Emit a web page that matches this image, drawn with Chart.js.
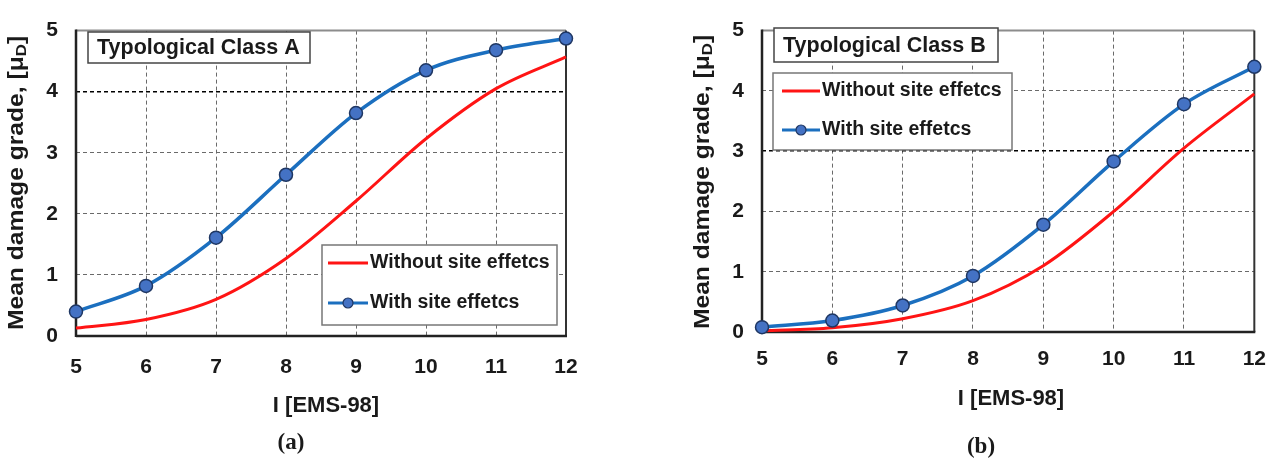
<!DOCTYPE html>
<html>
<head>
<meta charset="utf-8">
<script src="https://cdn.jsdelivr.net/npm/chart.js@4.4.0/dist/chart.umd.min.js"></script>
<style>
body{margin:0;background:#fff;width:1281px;height:461px;overflow:hidden;position:relative}
canvas{position:absolute;top:0}
#cA{left:0}
#cB{left:640px}
</style>
</head>
<body>
<canvas id="cA" width="640" height="461"></canvas>
<canvas id="cB" width="641" height="461"></canvas>
<script>
// values
const intensity = [5, 6, 7, 8, 9, 10, 11, 12];
const yTicks = [0, 1, 2, 3, 4, 5];
const seriesNames = ['Without site effetcs', 'With site effetcs'];
const classA_without = [0.13, 0.27, 0.60, 1.27, 2.21, 3.23, 4.05, 4.57];
const classA_with    = [0.40, 0.82, 1.61, 2.64, 3.65, 4.35, 4.68, 4.87];
const classB_without = [0.02, 0.07, 0.22, 0.52, 1.10, 2.00, 3.05, 3.95];
const classB_with    = [0.08, 0.19, 0.44, 0.93, 1.78, 2.83, 3.78, 4.40];

const SANS = '"Liberation Sans", Arial, sans-serif';
const RED = '#ff1414', BLUE = '#1b6fbf', DOT = '#4472c4', DOTEDGE = '#1f3763';

function line(ctx, x1, y1, x2, y2, col, w){
  ctx.beginPath(); ctx.strokeStyle = col; ctx.lineWidth = w;
  ctx.moveTo(x1, y1); ctx.lineTo(x2, y2); ctx.stroke();
}
function rectBox(ctx, r, edge){
  ctx.fillStyle = '#fff'; ctx.fillRect(r.x, r.y, r.w, r.h);
  ctx.strokeStyle = edge; ctx.lineWidth = 1.5; ctx.strokeRect(r.x, r.y, r.w, r.h);
}
function label(ctx, s, x, y, size, align, font){
  ctx.font = 'bold ' + size + 'px ' + (font || SANS);
  ctx.fillStyle = '#1a1a1a'; ctx.textAlign = align; ctx.textBaseline = 'middle';
  ctx.fillText(s, x, y);
}

function figPlugin(cfg){
  return {
    id: 'fig' + cfg.tag,
    beforeDatasetsDraw(chart){
      const {ctx, chartArea: a} = chart;
      ctx.save();
      line(ctx, a.left, a.top, a.right, a.top, '#8c8c8c', 2);
      line(ctx, a.right, a.top, a.right, a.bottom, '#333', 2);
      line(ctx, a.left, a.top - 1, a.left, a.bottom + 1, '#222', 2.5);
      line(ctx, a.left, a.bottom, a.right + 1, a.bottom, '#222', 2.5);
      // class box
      rectBox(ctx, cfg.titleBox, '#444');
      label(ctx, cfg.title, cfg.titleBox.x + 9, cfg.titleBox.y + cfg.titleBox.h / 2 + 1, 21.5, 'left');
      // legend
      const L = cfg.legend;
      rectBox(ctx, L.box, '#777');
      ctx.lineCap = 'butt';
      line(ctx, L.x1, L.y1, L.x2, L.y1, RED, 3);
      line(ctx, L.x1, L.y2, L.x2, L.y2, BLUE, 3);
      ctx.beginPath(); ctx.arc((L.x1 + L.x2) / 2, L.y2, 5, 0, Math.PI * 2);
      ctx.fillStyle = DOT; ctx.fill(); ctx.strokeStyle = DOTEDGE; ctx.lineWidth = 1.2; ctx.stroke();
      label(ctx, seriesNames[0], L.x2 + 2, L.y1, 19.5, 'left');
      label(ctx, seriesNames[1], L.x2 + 2, L.y2, 19.5, 'left');
      ctx.restore();
    },
    afterDraw(chart){
      const {ctx} = chart;
      ctx.save();
      label(ctx, 'I [EMS-98]', cfg.xTitle.x, cfg.xTitle.y, 22, 'center');
      label(ctx, cfg.caption, cfg.cap.x, cfg.cap.y, 23, 'center', '"Liberation Serif", "Times New Roman", serif');
      // rotated y title with subscript D
      ctx.translate(cfg.yTitle.x, cfg.yTitle.y);
      ctx.rotate(-Math.PI / 2);
      ctx.scale(1.12, 1);
      const f = 'bold 22px ' + SANS, fs = 'bold 15px ' + SANS;
      const s1 = 'Mean damage grade, [\u03bc', s2 = 'D', s3 = ']';
      ctx.font = f; const w1 = ctx.measureText(s1).width, w3 = ctx.measureText(s3).width;
      ctx.font = fs; const w2 = ctx.measureText(s2).width;
      let x = -(w1 + w2 + w3) / 2;
      ctx.fillStyle = '#1a1a1a'; ctx.textBaseline = 'middle'; ctx.textAlign = 'left';
      ctx.font = f; ctx.fillText(s1, x, 0); x += w1;
      ctx.font = fs; ctx.fillText(s2, x, 5); x += w2;
      ctx.font = f; ctx.fillText(s3, x, 0);
      ctx.restore();
    }
  };
}

function makeChart(id, without, withSite, cfg){
  const hl = cfg.highlight;
  const gridColor = c => {
    const v = c.tick ? c.tick.value : null;
    if (v === c.scale.min || v === c.scale.max) return 'rgba(0,0,0,0)';
    return v === hl && c.scale.axis === 'y' ? '#000' : '#6a6a6a';
  };
  return new Chart(document.getElementById(id), {
    type: 'line',
    data: {
      datasets: [
        {label: seriesNames[1], order: 0, data: intensity.map((x, i) => ({x, y: withSite[i]})),
         borderColor: BLUE, borderWidth: 3.5, pointRadius: 6.5, pointBackgroundColor: DOT,
         pointBorderColor: DOTEDGE, pointBorderWidth: 1.5, cubicInterpolationMode: 'monotone', clip: false},
        {label: seriesNames[0], order: 1, data: intensity.map((x, i) => ({x, y: without[i]})),
         borderColor: RED, borderWidth: 3, pointRadius: 0, cubicInterpolationMode: 'monotone', clip: false}
      ]
    },
    options: {
      responsive: false, animation: false,
      layout: {padding: cfg.pad},
      plugins: {legend: {display: false}, tooltip: {enabled: false}},
      scales: {
        x: {
          type: 'linear', min: intensity[0], max: intensity[intensity.length - 1],
          afterFit: s => { s.height = 40; },
          afterBuildTicks: s => { s.ticks = intensity.map(v => ({value: v})); },
          ticks: {padding: cfg.xPad, color: '#1a1a1a', font: {family: SANS, size: 21, weight: 'bold'}},
          grid: {color: gridColor, lineWidth: 1, drawTicks: false},
          border: {display: false, dash: [4, 3]}
        },
        y: {
          min: yTicks[0], max: yTicks[yTicks.length - 1],
          afterFit: s => { s.width = cfg.yWidth; },
          afterBuildTicks: s => { s.ticks = yTicks.map(v => ({value: v})); },
          ticks: {padding: 18, color: '#1a1a1a', font: {family: SANS, size: 21, weight: 'bold'}},
          grid: {color: gridColor, lineWidth: c => (c.tick && c.tick.value === hl ? 1.5 : 1), drawTicks: false},
          border: {display: false, dash: [4, 3]}
        }
      }
    },
    plugins: [figPlugin(cfg)]
  });
}

makeChart('cA', classA_without, classA_with, {
  tag: 'A', title: 'Typological Class A', caption: '(a)', highlight: 4,
  pad: {left: 0, right: 74, top: 22, bottom: 85}, yWidth: 76, xPad: 19,
  titleBox: {x: 88, y: 32, w: 222, h: 31},
  legend: {box: {x: 322, y: 245, w: 235, h: 80}, x1: 328, x2: 368, y1: 263, y2: 303},
  xTitle: {x: 326, y: 406}, cap: {x: 291, y: 443}, yTitle: {x: 17, y: 183}
});
makeChart('cB', classB_without, classB_with, {
  tag: 'B', title: 'Typological Class B', caption: '(b)', highlight: 3,
  pad: {left: 0, right: 24, top: 21, bottom: 89}, yWidth: 122, xPad: 15,
  titleBox: {x: 134, y: 28, w: 224, h: 34},
  legend: {box: {x: 133, y: 73, w: 239, h: 77}, x1: 142, x2: 180, y1: 91, y2: 130},
  xTitle: {x: 371, y: 399}, cap: {x: 341, y: 447}, yTitle: {x: 63, y: 182}
});
</script>
</body>
</html>
